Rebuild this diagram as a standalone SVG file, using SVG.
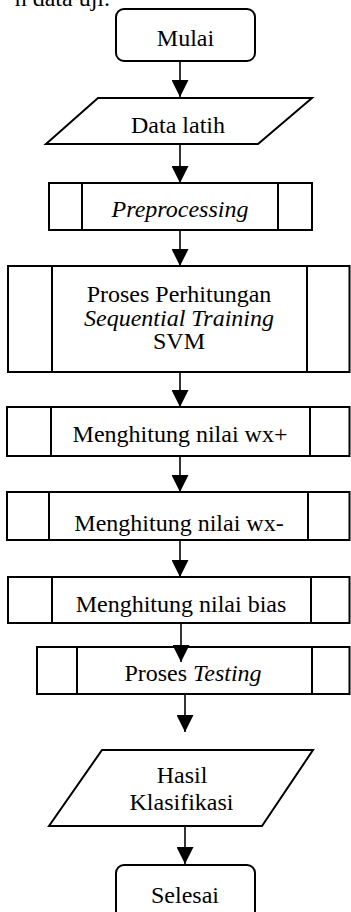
<svg xmlns="http://www.w3.org/2000/svg" width="351" height="912" viewBox="0 0 351 912">
<defs>
<style>
.b{fill:#fff;stroke:#000;stroke-width:2}
.d{stroke:#000;stroke-width:2;fill:none}
.t{font-family:"Liberation Serif","Times New Roman",serif;font-size:24px;fill:#000;text-anchor:middle}
.i{font-style:italic}
.c{stroke:#000;stroke-width:1.6;fill:none}
</style>
<marker id="ah" markerWidth="17" markerHeight="17" viewBox="0 0 17 17" refX="17" refY="8.5" orient="auto" markerUnits="userSpaceOnUse">
<path d="M0,0 L17,8.5 L0,17 Z" fill="#000"/>
</marker>
</defs>
<rect width="351" height="912" fill="#fff"/>
<text x="110" y="6" class="t" style="text-anchor:end">n data uji.</text>

<g id="connectors">
<line class="c" x1="180" y1="61" x2="180" y2="97" marker-end="url(#ah)"/>
<line class="c" x1="180" y1="144" x2="180" y2="183" marker-end="url(#ah)"/>
<line class="c" x1="180" y1="230" x2="180" y2="266" marker-end="url(#ah)"/>
<line class="c" x1="180" y1="372" x2="180" y2="407" marker-end="url(#ah)"/>
<line class="c" x1="180" y1="456" x2="180" y2="492" marker-end="url(#ah)"/>
<line class="c" x1="180" y1="540" x2="180" y2="577" marker-end="url(#ah)"/>
</g>

<g id="mulai">
<rect class="b" x="116" y="9" width="139" height="52" rx="8"/>
<text class="t" x="185.5" y="46">Mulai</text>
</g>

<g id="data-latih">
<polygon class="b" points="98,98 312,98 258,144 46,144"/>
<text class="t" x="178" y="133">Data latih</text>
</g>

<g id="preprocessing">
<rect class="b" x="49" y="183" width="263" height="47"/>
<line class="d" x1="82" y1="183" x2="82" y2="230"/>
<line class="d" x1="278" y1="183" x2="278" y2="230"/>
<text class="t i" x="180" y="217">Preprocessing</text>
</g>

<g id="sequential-training">
<rect class="b" x="8" y="266" width="341.5" height="106"/>
<line class="d" x1="52" y1="266" x2="52" y2="372"/>
<line class="d" x1="307" y1="266" x2="307" y2="372"/>
<text class="t" x="179" y="302">Proses Perhitungan</text>
<text class="t i" x="179" y="325.5">Sequential Training</text>
<text class="t" x="179" y="349">SVM</text>
</g>

<g id="wx-plus">
<rect class="b" x="7" y="407" width="342.5" height="49"/>
<line class="d" x1="51" y1="407" x2="51" y2="456"/>
<line class="d" x1="310" y1="407" x2="310" y2="456"/>
<text class="t" x="180" y="442">Menghitung nilai wx+</text>
</g>

<g id="wx-minus">
<rect class="b" x="7" y="492" width="342.5" height="48"/>
<line class="d" x1="49" y1="492" x2="49" y2="540"/>
<line class="d" x1="308" y1="492" x2="308" y2="540"/>
<text class="t" x="179" y="531">Menghitung nilai wx-</text>
</g>

<g id="bias">
<rect class="b" x="8" y="577" width="341.5" height="46"/>
<line class="d" x1="52" y1="577" x2="52" y2="623"/>
<line class="d" x1="311" y1="577" x2="311" y2="623"/>
<text class="t" x="181" y="612">Menghitung nilai bias</text>
</g>

<g id="testing">
<rect class="b" x="37" y="647" width="312.5" height="47"/>
<line class="d" x1="77" y1="647" x2="77" y2="694"/>
<line class="d" x1="312" y1="647" x2="312" y2="694"/>
<text class="t" x="193" y="680.5">Proses <tspan class="i">Testing</tspan></text>
</g>

<g id="hasil">
<polygon class="b" points="102,750 313,750 262,826 49,826"/>
<text class="t" x="182" y="782.5">Hasil</text>
<text class="t" x="181.5" y="810">Klasifikasi</text>
</g>

<g id="selesai">
<rect class="b" x="116" y="865" width="139" height="60" rx="8"/>
<text class="t" x="185" y="903">Selesai</text>
</g>

<g id="connectors-lower">
<line class="c" x1="181" y1="623" x2="181" y2="662" marker-end="url(#ah)"/>
<line class="c" x1="185" y1="694" x2="185" y2="732" marker-end="url(#ah)"/>
<line class="c" x1="185" y1="826" x2="185" y2="864" marker-end="url(#ah)"/>
</g>
</svg>
